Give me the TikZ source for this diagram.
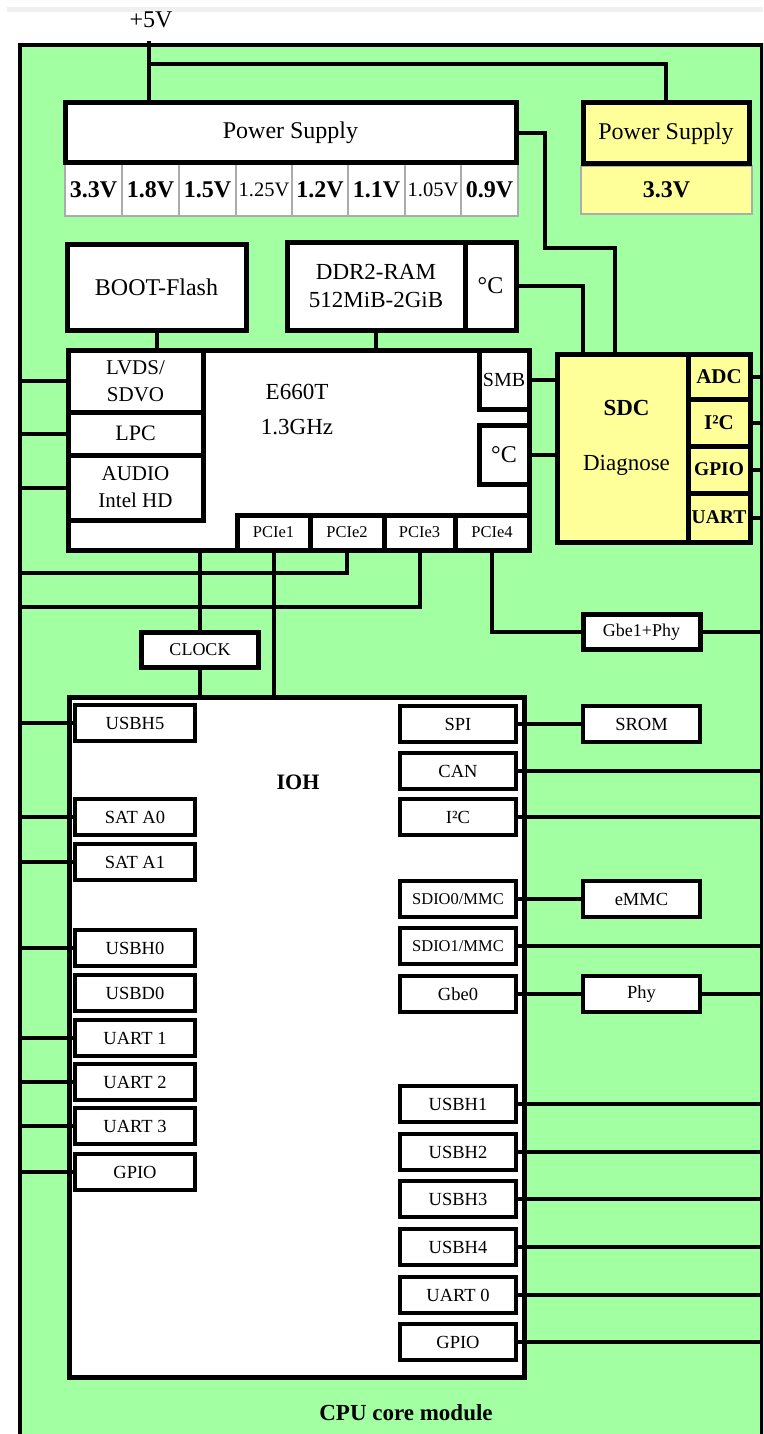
\documentclass[tikz,border=0pt]{standalone}
\usepackage{fontspec}
\setmainfont{Liberation Serif}
\definecolor{modgreen}{RGB}{162,255,162}
\definecolor{sdcyellow}{RGB}{255,255,153}
\newcommand\fsz[2]{\fontsize{#1}{#2}\selectfont}

\begin{document}
\begin{tikzpicture}[x=1pt, y=-1pt,
    blk/.style={draw, line width=5pt, fill=white, inner sep=0pt, outer sep=0pt, font=\fsz{23}{28}},
    port/.style={draw, line width=4.5pt, fill=white, inner sep=0pt, outer sep=0pt, font=\fsz{18.5}{20},
                 minimum height=36},
    cell/.style={draw=gray!65, line width=1.2pt, fill=white, inner sep=0pt, outer sep=0pt},
    wire/.style={line width=4pt}]
    \useasboundingbox (0,0) rectangle (763,1434);
    \clip (0,0) rectangle (763,1434);
    \fill[gray!12] (7,7) rectangle (763,12);
    \node[draw, line width=4pt, fill=modgreen, inner sep=0pt, outer sep=0pt, anchor=north west,
          minimum width=742, minimum height=1420] (mod) at (20,45) {};
    \node[font=\fsz{23}{28}\bfseries] (title) at (406,1413) {CPU core module};

    % power supplies
    \node[font=\fsz{24}{28}] (v5lbl) at (151,20) {+5V};
    \coordinate (v5) at (149,41);
    \coordinate (j5) at (149,64);
    \foreach \c/\w/\t [count=\i] in {93.5/57/{\bfseries 3.3V}, 150.5/57/{\bfseries 1.8V}, 207.5/57/{\bfseries 1.5V},
        264/56/{\fsz{20.5}{22}1.25V}, 320/56/{\bfseries 1.2V}, 376.5/57/{\bfseries 1.1V},
        433/56/{\fsz{20.5}{22}1.05V}, 489.5/57/{\bfseries 0.9V}}
        \node[cell, minimum width=\w, minimum height=52, font=\fsz{24}{26}] (cell\i) at (\c,190) {\t};
    \node[blk, minimum width=451, minimum height=60, font=\fsz{24}{28}] (ps) at (290.5,133) {Power Supply};
    \node[cell, fill=sdcyellow, minimum width=171, minimum height=48, font=\fsz{24}{26}\bfseries] (spsv) at (666.5,190) {3.3V};
    \node[blk, fill=sdcyellow, minimum width=166, minimum height=61, font=\fsz{24}{28}] (sps) at (666,133.5) {Power Supply};

    % cpu
    \node[blk, minimum width=179, minimum height=86, font=\fsz{24}{28}] (boot) at (156.5,287) {BOOT-Flash};
    \node[blk, minimum width=178, minimum height=88, align=center] (ddr) at (376,286) {DDR2-RAM\\512MiB-2GiB};
    \node[blk, minimum width=51, minimum height=88, font=\fsz{24}{28}] (ddrt) at (490.5,286) {°C};
    \node[blk, minimum width=461, minimum height=200] (cpu) at (298.5,450) {};
    \node[font=\fsz{23}{35}, align=center] (cpulbl) at (297,410) {E660T\\1.3GHz};
    \node[blk, minimum width=135, minimum height=62, align=center, font=\fsz{21}{27}] (lvds) at (135.5,381) {LVDS/\\SDVO};
    \node[blk, minimum width=135, minimum height=43, font=\fsz{22}{26}] (lpc) at (135.5,433.5) {LPC};
    \node[blk, minimum width=135, minimum height=65, align=center, font=\fsz{21}{27}] (audio) at (135.5,487.5) {AUDIO\\Intel HD};
    \node[blk, minimum width=50, minimum height=59, font=\fsz{20}{22}] (smb) at (504,379.5) {SMB};
    \node[blk, minimum width=50, minimum height=59, font=\fsz{24}{28}] (cput) at (504,454.5) {°C};
    \foreach \c/\w [count=\i] in {273.5/73, 347/74, 419.5/71, 492/74}
        \node[blk, minimum width=\w, minimum height=35, font=\fsz{16.5}{18}] (pcie\i) at (\c,532.5) {PCIe\i};

    % sdc
    \node[blk, fill=sdcyellow, minimum width=131, minimum height=188] (sdc) at (622.5,448) {};
    \node[font=\fsz{23}{28}\bfseries] (sdct) at ([xshift=4pt,yshift=40pt]sdc.center) {SDC};
    \node[font=\fsz{23}{28}] (sdcd) at ([xshift=4pt,yshift=-17pt]sdc.center) {Diagnose};
    \foreach \y/\h/\t [count=\i] in {376.5/45/{\fsz{21}{24}ADC}, 422.5/47/{\fsz{21}{24}I²C},
        469.5/47/{\fsz{19.5}{22}GPIO}, 517.5/49/{\fsz{19.5}{22}UART}}
        \node[blk, fill=sdcyellow, minimum width=62, minimum height=\h, font=\bfseries] (sdcp\i) at (719,\y) {\t};

    % ioh
    \node[blk, minimum width=117, minimum height=35, font=\fsz{18}{20}] (clk) at (200,649.5) {CLOCK};
    \node[blk, minimum width=117, minimum height=35, font=\fsz{18}{20}] (gbe1) at (641.5,632) {Gbe1+Phy};
    \node[blk, minimum width=455, minimum height=680] (ioh) at (296.5,1037) {};
    \node[font=\fsz{22}{26}\bfseries] (iohlbl) at (298,782) {IOH};
    \foreach \y/\t [count=\i] in {723/USBH5, 817/SAT A0, 862/SAT A1, 948/USBH0, 993/USBD0,
        1038/UART 1, 1082/UART 2, 1126/UART 3, 1172/GPIO}
        \node[port, minimum width=120] (lp\i) at (135,\y) {\t};
    \foreach \y/\t [count=\i] in {724/SPI, 771/CAN, 817/I²C, 899/{\fsz{16.5}{18}SDIO0/MMC},
        946/{\fsz{16.5}{18}SDIO1/MMC}, 994/Gbe0, 1104/USBH1, 1152/USBH2, 1199/USBH3,
        1247/USBH4, 1295/UART 0, 1342/GPIO}
        \node[port, minimum width=116] (rp\i) at (458,\y) {\t};
    \node[port, minimum width=117] (srom) at (641.5,724) {SROM};
    \node[port, minimum width=117] (emmc) at (641.5,899) {eMMC};
    \node[port, minimum width=117] (phy) at (641.5,994) {Phy};

    % wires
    \coordinate (bend1) at (545,248);
    \draw[wire] (v5) -- (v5 |- ps.north);
    \draw[wire] (j5) -| (sps.north);
    \draw[wire] (ps.east) -| (bend1) -| ([xshift=-8pt]sdc.north);
    \draw[wire] (ddrt.east) -| ([xshift=-40pt]sdc.north);
    \draw[wire] (boot.south) -- (boot.south |- cpu.north);
    \draw[wire] (ddr.south) -- (ddr.south |- cpu.north);
    \draw[wire] (smb.east) -- (smb.east -| sdc.west);
    \draw[wire] (cput.east) -- (cput.east -| sdc.west);
    \foreach \i in {1,...,4} \draw[wire] (sdcp\i.east) -- (sdcp\i.east -| mod.east);
    \foreach \n in {lvds,lpc,audio} \draw[wire] (\n.west) -- (\n.west -| mod.west);
    \draw[wire] (clk.north) -- (clk.north |- cpu.south);
    \draw[wire] (clk.south) -- (clk.south |- ioh.north);
    \draw[wire] (pcie1.south) -- (pcie1.south |- ioh.north);
    \draw[wire] (pcie2.south) -- ++(0,23) coordinate (t2) -- (t2 -| mod.west);
    \draw[wire] (pcie3.south) -- ++(0,57) coordinate (t3) -- (t3 -| mod.west);
    \draw[wire] (pcie4.south) |- (gbe1.west);
    \draw[wire] (gbe1.east) -- (gbe1.east -| mod.east);
    \foreach \i in {1,2,3,4,6,7,8,9} \draw[wire] (lp\i.west) -- (lp\i.west -| mod.west);
    \draw[wire] (rp1.east) -- (srom.west);
    \draw[wire] (rp4.east) -- (emmc.west);
    \draw[wire] (rp6.east) -- (phy.west);
    \draw[wire] (phy.east) -- (phy.east -| mod.east);
    \foreach \i in {2,3,5,7,8,...,12} \draw[wire] (rp\i.east) -- (rp\i.east -| mod.east);
\end{tikzpicture}
\end{document}
